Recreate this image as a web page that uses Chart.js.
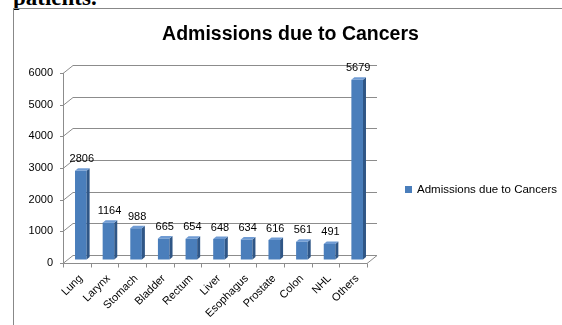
<!DOCTYPE html>
<html>
<head>
<meta charset="utf-8">
<script src="https://cdn.jsdelivr.net/npm/chart.js@4"></script>
<style>
  html, body { margin: 0; padding: 0; width: 562px; height: 325px; overflow: hidden; background: #fff; }
  #caption { position: absolute; left: 13px; top: -14px; font: bold 23px/23px "Liberation Serif", serif; color: #000; white-space: nowrap; }
  #frame { position: absolute; left: 13px; top: 8px; width: 600px; height: 400px; border-left: 1px solid #888; border-top: 1px solid #888; }
  #c { position: absolute; left: 0; top: 0; }
  #title { position: absolute; left: 13px; width: 555px; top: 21px; height: 24px; line-height: 24px; text-align: center;
           font: bold 19.5px/24px "Liberation Sans", Arial, sans-serif; color: #000; white-space: nowrap; }
  #legend { position: absolute; left: 405px; top: 181px; height: 16px; line-height: 16px; font: 11.5px/16px "Liberation Sans", Arial, sans-serif; color: #000; white-space: nowrap; }
  #legend .box { display: inline-block; width: 7px; height: 7px; margin-right: 5px; vertical-align: 0px; }
</style>
</head>
<body>
<div id="caption">patients.</div>
<div id="frame"></div>
<canvas id="c" width="562" height="325"></canvas>
<div id="title"></div>
<div id="legend"></div>
<script>
const categories = ['Lung','Larynx','Stomach','Bladder','Rectum','Liver','Esophagus','Prostate','Colon','NHL','Others'];
const admissions = [2806,1164,988,665,654,648,634,616,561,491,5679];
const seriesName = 'Admissions due to Cancers';
const chartTitle = 'Admissions due to Cancers';
const yMin = 0, yMax = 6000, yStep = 1000;

const FONT = '"Liberation Sans", Arial, sans-serif';
const BAR_COLOR = '#4a7ebb';
const DEPTH_X = 10, DEPTH_Y = -8;       // back wall offset
const BAR_SHIFT_X = 4, BAR_SHIFT_Y = -3.5;
const SIDE_X = 3, SIDE_Y = -2.5;
const GRID = '#8c8c8c';

const threeD = {
  id: 'threeD',
  beforeDatasetsDraw(chart) {
    const {ctx, chartArea: a, scales: {x, y}} = chart;
    ctx.save();
    ctx.strokeStyle = GRID;
    ctx.lineWidth = 1;
    ctx.beginPath();
    y.ticks.forEach(t => {
      const py = Math.round(y.getPixelForValue(t.value)) + 0.5;
      ctx.moveTo(a.left - 3, py); ctx.lineTo(a.left, py);
      ctx.lineTo(a.left + DEPTH_X, py + DEPTH_Y);
      ctx.lineTo(a.right + DEPTH_X, py + DEPTH_Y);
    });
    const lx = Math.round(a.left) + 0.5, by = Math.round(a.bottom) + 0.5;
    ctx.moveTo(lx, Math.round(a.top)); ctx.lineTo(lx, by);
    ctx.lineTo(a.right, by); ctx.lineTo(a.right + DEPTH_X, by + DEPTH_Y);
    for (let i = 0; i <= categories.length; i++) {
      const px = Math.round(x.getPixelForValue(i - 0.5)) + 0.5;
      ctx.moveTo(px, by); ctx.lineTo(px, by + 4);
    }
    ctx.stroke();
    ctx.restore();
    ctx.save();
    ctx.translate(BAR_SHIFT_X, BAR_SHIFT_Y);
  },
  afterDatasetsDraw(chart) {
    const {ctx} = chart;
    const meta = chart.getDatasetMeta(0);
    meta.data.forEach(el => {
      const l = el.x - el.width / 2, r = el.x + el.width / 2;
      ctx.fillStyle = '#2f5686';
      ctx.beginPath();
      ctx.moveTo(r, el.y); ctx.lineTo(r + SIDE_X, el.y + SIDE_Y);
      ctx.lineTo(r + SIDE_X, el.base + SIDE_Y); ctx.lineTo(r, el.base);
      ctx.closePath(); ctx.fill();
      ctx.fillStyle = '#6f9bd3';
      ctx.beginPath();
      ctx.moveTo(l, el.y); ctx.lineTo(l + SIDE_X, el.y + SIDE_Y);
      ctx.lineTo(r + SIDE_X, el.y + SIDE_Y); ctx.lineTo(r, el.y);
      ctx.closePath(); ctx.fill();
    });
    ctx.restore();
    ctx.save();
    ctx.fillStyle = '#000';
    ctx.font = '11px ' + FONT;
    ctx.textAlign = 'center';
    ctx.textBaseline = 'middle';
    meta.data.forEach((el, i) => {
      ctx.fillText(String(admissions[i]), el.x + BAR_SHIFT_X + 1, el.y + BAR_SHIFT_Y - 11.5);
    });
    ctx.restore();
  }
};

const chart = new Chart(document.getElementById('c'), {
  type: 'bar',
  data: {
    labels: categories,
    datasets: [{
      label: seriesName,
      data: admissions,
      backgroundColor: BAR_COLOR,
      borderWidth: 0,
      categoryPercentage: 1,
      barPercentage: 0.42,
      clip: false
    }]
  },
  options: {
    responsive: false,
    animation: false,
    devicePixelRatio: 1,
    layout: { padding: { left: 13, top: 73, right: 195, bottom: 0 } },
    plugins: {
      title: { display: false },
      legend: { display: false },
      tooltip: { enabled: false }
    },
    scales: {
      x: {
        grid: { display: false, drawTicks: false },
        border: { display: false },
        ticks: { color: '#000', font: { family: FONT, size: 11 }, maxRotation: 45, minRotation: 45, padding: 9, labelOffset: 4, autoSkip: false },
        afterFit(s) { s.height = 62; }
      },
      y: {
        min: yMin, max: yMax,
        grid: { display: false, drawTicks: false },
        border: { display: false },
        ticks: { stepSize: yStep, color: '#000', font: { family: FONT, size: 11 }, padding: 10, callback: v => String(v) },
        afterFit(s) { s.width = 50; }
      }
    }
  },
  plugins: [threeD]
});

document.getElementById('title').textContent = chartTitle;
const lg = document.getElementById('legend');
chart.data.datasets.forEach(ds => {
  const box = document.createElement('span');
  box.className = 'box';
  box.style.background = ds.backgroundColor;
  lg.appendChild(box);
  lg.appendChild(document.createTextNode(ds.label));
});
</script>
</body>
</html>
